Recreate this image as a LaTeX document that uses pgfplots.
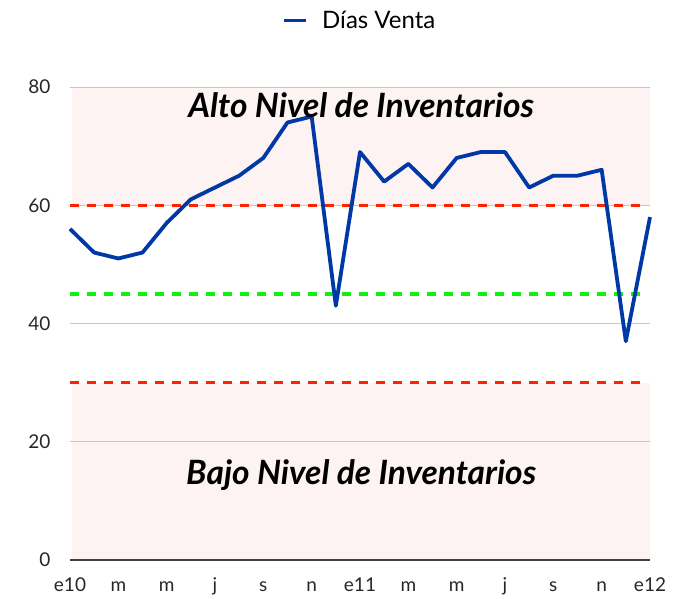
\documentclass[border=0pt]{standalone}
\usepackage{fontspec}
\setmainfont{Lato}
\usepackage{pgfplots}
\pgfplotsset{compat=1.18}
\definecolor{bgpink}{HTML}{FDF3F3}
\definecolor{lineblue}{HTML}{0039A6}
\definecolor{dred}{HTML}{FF2200}
\definecolor{dgreen}{HTML}{11EE11}
\begin{document}
\begin{tikzpicture}
\begin{axis}[name=ax,
  scale only axis, width=580pt, height=473pt,
  xmin=0, xmax=24, ymin=0, ymax=80,
  xtick={0,2,...,24},
  xticklabels={e10,m,m,j,s,n,e11,m,m,j,s,n,e12},
  ytick={0,20,40,60,80},
  axis line style={draw=none},
  tick style={draw=none},
  every tick label/.append style={font=\fontsize{19}{21}\selectfont, text=black!85},
  xticklabel style={anchor=base, yshift=-31pt},
  yticklabel style={xshift=-16pt},
  /pgf/number format/assume math mode=true,
  clip=false,
  legend style={at={(0.5,1.0)}, yshift=53pt, anchor=south, draw=none, fill=none, font=\fontsize{24}{26}\selectfont},
  legend image code/.code={\draw[#1, line width=3.5pt] (0pt,0pt) -- (22pt,0pt);},
  legend cell align=left,
]
\fill[bgpink] (axis cs:0.08,60) rectangle (axis cs:24,80);
\fill[bgpink] (axis cs:0.08,0) rectangle (axis cs:24,30);
\draw[gray!45, line width=0.9pt] (axis cs:0,20) -- (axis cs:24,20);
\draw[gray!45, line width=0.9pt] (axis cs:0,40) -- (axis cs:24,40);
\draw[gray!45, line width=0.9pt] (axis cs:0,60) -- (axis cs:24,60);
\draw[gray!45, line width=0.9pt] (axis cs:0,80) -- (axis cs:24,80);
\draw[black!75, line width=1.2pt] (axis cs:0,0) -- (axis cs:24,0);
\addplot[dred, line width=3.5pt, dash pattern=on 9pt off 8pt, forget plot] coordinates {(0,60) (23.8,60)};
\addplot[dred, line width=3.5pt, dash pattern=on 9pt off 8pt, forget plot] coordinates {(0,30) (23.8,30)};
\addplot[dgreen, line width=3.5pt, dash pattern=on 9pt off 8pt, forget plot] coordinates {(0,45) (23.8,45)};
\addplot[lineblue, line width=3.8pt, line join=round] coordinates {
(0,56) (1,52) (2,51) (3,52) (4,57) (5,61) (6,63) (7,65) (8,68) (9,74) (10,75) (11,43)
(12,69) (13,64) (14,67) (15,63) (16,68) (17,69) (18,69) (19,63) (20,65) (21,65) (22,66) (23,37) (24,58)};
\addlegendentry{\hspace{12pt}Días Venta}
\node[font=\fontsize{33.5}{36}\selectfont\bfseries\itshape] at (axis cs:12.05,77) {Alto Nivel de Inventarios};
\node[font=\fontsize{33.5}{36}\selectfont\bfseries\itshape] at (axis cs:12.05,14.3) {Bajo Nivel de Inventarios};
\end{axis}
\pgfresetboundingbox
\path[use as bounding box] (ax.south west) ++(-70pt,-38pt) rectangle ++(685pt,598pt);
\end{tikzpicture}
\end{document}
